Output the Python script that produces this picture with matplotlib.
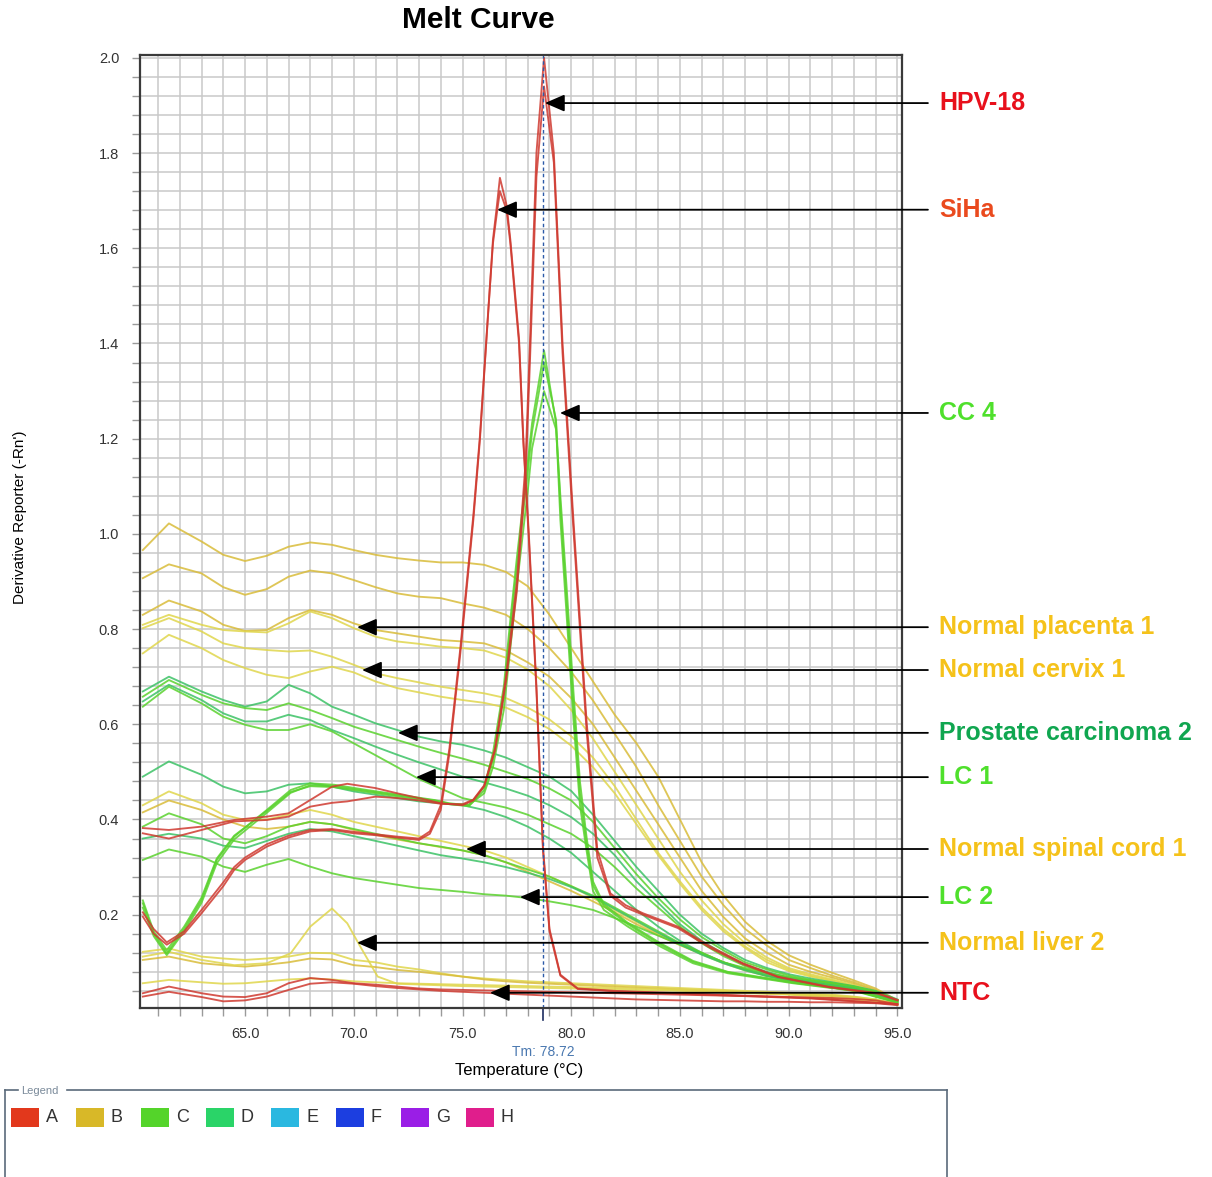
import matplotlib
matplotlib.use("Agg")
import matplotlib.pyplot as plt
from matplotlib.patches import Rectangle
from matplotlib.lines import Line2D
from matplotlib.ticker import MultipleLocator, FormatStrFormatter

plt.rcParams['font.family'] = ['Liberation Sans', 'DejaVu Sans']

# ---------------- data ----------------
# common temperature grid for the broad (non-peaking) traces
T_BASE = [60.3, 61.5, 63, 64, 65, 66, 67, 68, 69, 70, 71, 72, 73, 74, 75,
          76, 77, 78, 79, 80, 81, 82, 83, 84, 85, 86, 87, 88, 89, 90,
          91, 92, 93, 94, 95]

# well group B (yellow) - upper band
B1 = [0.966, 1.022, 0.984, 0.956, 0.943, 0.954, 0.973, 0.982, 0.977, 0.966, 0.956, 0.949, 0.944, 0.940, 0.940,
      0.935, 0.920, 0.890, 0.830, 0.760, 0.690, 0.620, 0.560, 0.490, 0.400, 0.310, 0.240, 0.185, 0.145, 0.115,
      0.095, 0.078, 0.062, 0.045, 0.020]
B2 = [0.907, 0.936, 0.917, 0.888, 0.872, 0.884, 0.910, 0.923, 0.917, 0.903, 0.888, 0.875, 0.868, 0.865, 0.854,
      0.845, 0.830, 0.800, 0.760, 0.710, 0.650, 0.580, 0.510, 0.430, 0.355, 0.280, 0.220, 0.170, 0.135, 0.105,
      0.088, 0.072, 0.058, 0.042, 0.020]
B3 = [0.830, 0.860, 0.837, 0.809, 0.796, 0.798, 0.823, 0.840, 0.830, 0.812, 0.798, 0.791, 0.784, 0.777, 0.774,
      0.770, 0.755, 0.730, 0.700, 0.655, 0.600, 0.530, 0.460, 0.390, 0.320, 0.250, 0.195, 0.150, 0.120, 0.095,
      0.080, 0.068, 0.055, 0.040, 0.020]
B4 = [0.809, 0.830, 0.809, 0.798, 0.795, 0.793, 0.812, 0.837, 0.823, 0.802, 0.784, 0.774, 0.769, 0.763, 0.760,
      0.755, 0.740, 0.715, 0.680, 0.630, 0.570, 0.500, 0.430, 0.360, 0.290, 0.230, 0.180, 0.140, 0.110, 0.088,
      0.075, 0.064, 0.052, 0.038, 0.020]
B5 = [0.802, 0.823, 0.795, 0.770, 0.760, 0.756, 0.753, 0.755, 0.742, 0.725, 0.707, 0.697, 0.688, 0.679, 0.672,
      0.665, 0.655, 0.635, 0.610, 0.575, 0.530, 0.470, 0.400, 0.330, 0.270, 0.215, 0.170, 0.133, 0.105, 0.085,
      0.072, 0.062, 0.050, 0.036, 0.020]
B6 = [0.749, 0.788, 0.760, 0.735, 0.718, 0.704, 0.697, 0.711, 0.721, 0.709, 0.690, 0.676, 0.667, 0.658, 0.651,
      0.645, 0.635, 0.615, 0.590, 0.555, 0.510, 0.455, 0.390, 0.325, 0.265, 0.210, 0.165, 0.130, 0.100, 0.082,
      0.070, 0.060, 0.048, 0.035, 0.020]
# well group B (yellow) - lower band
B7 = [0.430, 0.459, 0.434, 0.410, 0.399, 0.400, 0.410, 0.420, 0.410, 0.395, 0.385, 0.375, 0.365, 0.355, 0.345,
      0.335, 0.320, 0.300, 0.280, 0.260, 0.235, 0.210, 0.185, 0.160, 0.140, 0.120, 0.100, 0.085, 0.072, 0.062,
      0.055, 0.048, 0.040, 0.032, 0.020]
B8 = [0.415, 0.440, 0.420, 0.400, 0.385, 0.380, 0.385, 0.395, 0.390, 0.378, 0.368, 0.358, 0.350, 0.342, 0.335,
      0.325, 0.310, 0.290, 0.270, 0.250, 0.228, 0.205, 0.180, 0.157, 0.136, 0.117, 0.098, 0.083, 0.071, 0.061,
      0.054, 0.047, 0.040, 0.031, 0.019]
B9 = [0.122, 0.129, 0.112, 0.108, 0.105, 0.108, 0.112, 0.120, 0.119, 0.105, 0.100, 0.091, 0.085, 0.077, 0.070,
      0.066, 0.063, 0.060, 0.058, 0.056, 0.054, 0.052, 0.050, 0.048, 0.046, 0.044, 0.042, 0.040, 0.038, 0.036,
      0.034, 0.032, 0.028, 0.022, 0.012]
B10 = [0.105, 0.112, 0.098, 0.094, 0.091, 0.095, 0.100, 0.108, 0.106, 0.094, 0.090, 0.084, 0.080, 0.075, 0.070,
       0.064, 0.060, 0.057, 0.055, 0.053, 0.051, 0.049, 0.047, 0.045, 0.043, 0.041, 0.039, 0.037, 0.035, 0.033,
       0.031, 0.029, 0.026, 0.020, 0.010]
B11 = [0.056, 0.063, 0.058, 0.055, 0.056, 0.060, 0.064, 0.066, 0.064, 0.060, 0.058, 0.056, 0.055, 0.054, 0.053,
       0.052, 0.051, 0.050, 0.049, 0.048, 0.047, 0.046, 0.045, 0.044, 0.043, 0.042, 0.040, 0.038, 0.036, 0.034,
       0.032, 0.030, 0.027, 0.022, 0.012]
# normal liver trace with its small low-temperature peak
T_LIVER = [60.3, 61.5, 63, 64.5, 66, 67.1, 68, 69, 69.7, 70.3, 71.1, 72, 75, 80, 85, 90, 95]
B_LIVER = [0.112, 0.122, 0.105, 0.094, 0.098, 0.119, 0.175, 0.213, 0.182, 0.133, 0.070, 0.055,
           0.050, 0.045, 0.040, 0.032, 0.015]

# well groups C / D (green) - broad traces
G1 = [0.669, 0.700, 0.669, 0.651, 0.637, 0.648, 0.683, 0.665, 0.637, 0.620, 0.602, 0.588, 0.574, 0.564, 0.557,
      0.545, 0.530, 0.510, 0.490, 0.460, 0.410, 0.355, 0.300, 0.250, 0.200, 0.160, 0.130, 0.105, 0.088, 0.075,
      0.066, 0.058, 0.050, 0.040, 0.022]
G2 = [0.658, 0.693, 0.662, 0.644, 0.634, 0.630, 0.644, 0.630, 0.613, 0.595, 0.581, 0.567, 0.553, 0.540, 0.528,
      0.515, 0.500, 0.485, 0.465, 0.440, 0.395, 0.340, 0.285, 0.235, 0.190, 0.153, 0.125, 0.100, 0.085, 0.072,
      0.063, 0.056, 0.048, 0.038, 0.020]
G3 = [0.648, 0.683, 0.651, 0.623, 0.606, 0.606, 0.620, 0.609, 0.588, 0.571, 0.553, 0.536, 0.520, 0.505, 0.490,
      0.478, 0.465, 0.450, 0.430, 0.405, 0.370, 0.325, 0.270, 0.225, 0.180, 0.145, 0.118, 0.095, 0.080, 0.068,
      0.060, 0.053, 0.046, 0.036, 0.020]
G4 = [0.637, 0.679, 0.644, 0.616, 0.599, 0.588, 0.588, 0.600, 0.585, 0.560, 0.535, 0.510, 0.485, 0.465, 0.445,
      0.435, 0.425, 0.410, 0.390, 0.370, 0.340, 0.300, 0.255, 0.215, 0.175, 0.140, 0.113, 0.092, 0.078, 0.066,
      0.058, 0.052, 0.045, 0.035, 0.020]
G5 = [0.490, 0.522, 0.494, 0.469, 0.455, 0.459, 0.473, 0.476, 0.469, 0.459, 0.452, 0.445, 0.438, 0.434, 0.430,
      0.420, 0.405, 0.385, 0.360, 0.330, 0.290, 0.250, 0.210, 0.175, 0.145, 0.120, 0.100, 0.085, 0.075, 0.066,
      0.058, 0.052, 0.045, 0.035, 0.020]
G6 = [0.385, 0.413, 0.390, 0.360, 0.350, 0.365, 0.385, 0.395, 0.390, 0.380, 0.370, 0.360, 0.350, 0.343, 0.335,
      0.325, 0.310, 0.295, 0.280, 0.260, 0.240, 0.215, 0.190, 0.165, 0.140, 0.120, 0.100, 0.085, 0.072, 0.063,
      0.056, 0.050, 0.043, 0.033, 0.018]
G7 = [0.315, 0.337, 0.322, 0.301, 0.290, 0.305, 0.317, 0.301, 0.287, 0.277, 0.270, 0.263, 0.256, 0.252, 0.248,
      0.243, 0.240, 0.235, 0.228, 0.220, 0.210, 0.193, 0.175, 0.156, 0.137, 0.118, 0.100, 0.088, 0.078, 0.069,
      0.062, 0.056, 0.049, 0.038, 0.020]
G8 = [0.360, 0.370, 0.360, 0.345, 0.340, 0.355, 0.370, 0.380, 0.375, 0.365, 0.355, 0.345, 0.335, 0.325, 0.318,
      0.310, 0.300, 0.288, 0.275, 0.258, 0.238, 0.212, 0.187, 0.162, 0.138, 0.116, 0.098, 0.083, 0.071, 0.062,
      0.055, 0.049, 0.042, 0.032, 0.018]

# well group C (green) - specific product peak near Tm
T_CC = [60.3, 60.8, 61.4, 62.2, 63, 63.7, 64.5, 66, 67.1, 68, 69.1, 70.6, 72.1, 73.7, 74.4, 75.3, 76, 76.4,
        76.9, 77.2, 77.5, 78.0, 78.2, 78.75, 79.3, 79.5, 79.8, 80.1, 80.4, 80.7, 81, 81.5, 82.6, 84.1, 85.6,
        87.2, 90.2, 93, 95]
C1 = [0.224, 0.160, 0.119, 0.170, 0.231, 0.315, 0.364, 0.420, 0.462, 0.476, 0.473, 0.462, 0.452, 0.441, 0.434,
      0.430, 0.469, 0.540, 0.680, 0.820, 0.950, 1.150, 1.233, 1.385, 1.233, 1.030, 0.820, 0.610, 0.430, 0.336,
      0.250, 0.210, 0.175, 0.133, 0.098, 0.077, 0.056, 0.040, 0.015]
C2 = [0.230, 0.165, 0.125, 0.175, 0.236, 0.318, 0.366, 0.418, 0.458, 0.470, 0.468, 0.458, 0.448, 0.438, 0.432,
      0.428, 0.462, 0.525, 0.660, 0.800, 0.930, 1.130, 1.215, 1.360, 1.240, 1.060, 0.850, 0.640, 0.455, 0.350,
      0.262, 0.218, 0.180, 0.137, 0.101, 0.079, 0.057, 0.041, 0.016]
C3 = [0.215, 0.155, 0.115, 0.165, 0.225, 0.308, 0.358, 0.414, 0.456, 0.472, 0.470, 0.460, 0.450, 0.440, 0.433,
      0.431, 0.455, 0.510, 0.630, 0.760, 0.890, 1.090, 1.180, 1.300, 1.220, 1.080, 0.880, 0.670, 0.480, 0.365,
      0.270, 0.222, 0.183, 0.140, 0.103, 0.080, 0.058, 0.042, 0.016]

# well group A (red) - HPV-18 positive control pair
T_HPV = [60.3, 61.5, 63, 64.5, 66, 67, 68, 69, 69.7, 71, 72, 73, 74, 75, 75.5, 76, 76.5, 77, 77.5, 77.9,
         78.1, 78.4, 78.75, 79.2, 79.6, 80.1, 80.4, 80.7, 81.2, 81.8, 82.5, 83.3, 84.9, 86.4, 87.9, 89.5,
         91.8, 94.1, 95]
A_HPV1 = [0.382, 0.378, 0.385, 0.399, 0.406, 0.413, 0.441, 0.469, 0.475, 0.466, 0.455, 0.445, 0.434, 0.430,
          0.440, 0.470, 0.550, 0.700, 0.900, 1.150, 1.400, 1.800, 2.000, 1.800, 1.400, 1.030, 0.820, 0.610,
          0.336, 0.245, 0.220, 0.203, 0.175, 0.133, 0.098, 0.070, 0.049, 0.035, 0.021]
A_HPV2 = [0.371, 0.360, 0.378, 0.396, 0.399, 0.406, 0.427, 0.435, 0.438, 0.448, 0.445, 0.440, 0.433, 0.432,
          0.442, 0.472, 0.545, 0.690, 0.880, 1.120, 1.360, 1.750, 1.940, 1.780, 1.380, 1.010, 0.800, 0.590,
          0.320, 0.240, 0.215, 0.200, 0.172, 0.130, 0.096, 0.069, 0.048, 0.034, 0.020]

# well group A (red) - SiHa pair
T_SIHA = [60.3, 60.8, 61.4, 62.2, 63, 64, 64.5, 65, 66, 67, 68, 69, 70, 71, 72, 73, 73.5, 74, 74.4, 74.9,
          75.2, 75.5, 75.8, 76.2, 76.4, 76.57, 76.72, 77.03, 77.2, 77.6, 77.8, 78.05, 78.4, 78.7, 79.0, 79.5,
          80.3, 82, 85, 88, 91, 95]
A_SIHA1 = [0.196, 0.160, 0.137, 0.160, 0.203, 0.260, 0.294, 0.315, 0.343, 0.362, 0.375, 0.378, 0.371, 0.367,
           0.362, 0.357, 0.370, 0.420, 0.539, 0.749, 0.889, 1.030, 1.197, 1.477, 1.618, 1.685, 1.748, 1.690,
           1.618, 1.410, 1.197, 1.000, 0.680, 0.343, 0.170, 0.074, 0.045, 0.040, 0.035, 0.030, 0.025, 0.012]
A_SIHA2 = [0.205, 0.170, 0.142, 0.165, 0.210, 0.268, 0.300, 0.320, 0.348, 0.366, 0.378, 0.380, 0.374, 0.369,
           0.364, 0.360, 0.375, 0.430, 0.550, 0.760, 0.900, 1.040, 1.205, 1.480, 1.610, 1.670, 1.720, 1.680,
           1.610, 1.400, 1.190, 0.990, 0.670, 0.335, 0.165, 0.072, 0.044, 0.039, 0.034, 0.029, 0.024, 0.012]
# well group A (red) - no-template controls
A_NTC1 = [0.035, 0.049, 0.035, 0.028, 0.027, 0.035, 0.056, 0.067, 0.063, 0.056, 0.053, 0.049, 0.045, 0.043, 0.042,
          0.041, 0.040, 0.039, 0.038, 0.037, 0.036, 0.035, 0.034, 0.033, 0.032, 0.031, 0.030, 0.029, 0.028, 0.027,
          0.026, 0.025, 0.023, 0.020, 0.012]
A_NTC2 = [0.028, 0.038, 0.027, 0.018, 0.020, 0.028, 0.042, 0.055, 0.058, 0.055, 0.050, 0.046, 0.043, 0.040, 0.038,
          0.036, 0.034, 0.032, 0.030, 0.028, 0.026, 0.024, 0.022, 0.021, 0.020, 0.019, 0.018, 0.018, 0.017, 0.017,
          0.016, 0.016, 0.015, 0.014, 0.010]

TM = 78.72

# sample annotations: label, colour, arrow tip (temperature, derivative)
LABELS = ["HPV-18", "SiHa", "CC 4", "Normal placenta 1", "Normal cervix 1", "Prostate carcinoma 2",
          "LC 1", "Normal spinal cord 1", "LC 2", "Normal liver 2", "NTC"]
LABEL_COLORS = ["#e8101c", "#ea4a1e", "#4fe02c", "#f5c21a", "#f5c21a", "#10a650",
                "#4fe02c", "#f5c21a", "#4fe02c", "#f5c21a", "#e8101c"]
TIP_T = [78.79, 76.59, 79.48, 70.15, 70.38, 72.03, 72.86, 75.16, 77.64, 70.15, 76.26]
TIP_V = [1.905, 1.681, 1.254, 0.804, 0.714, 0.582, 0.489, 0.338, 0.237, 0.141, 0.036]

LEGEND_KEYS = ["A", "B", "C", "D", "E", "F", "G", "H"]
LEGEND_COLORS = ["#e2381c", "#d8b828", "#54d42a", "#2ad468", "#2ab8e0", "#1c3ee0", "#9a1ee6", "#e01e8c"]

# ---------------- figure ----------------
W, H = 1212, 1177
fig = plt.figure(figsize=(W / 100, H / 100), dpi=100)
fig.patch.set_facecolor("white")


def fx(px):
    return px / W


def fy(py):
    return 1 - py / H


ax = fig.add_axes([fx(140), fy(1008), fx(902) - fx(140), fy(55) - fy(1008)])
ax.set_xlim(60.17, 95.21)
ax.set_ylim(0.004, 2.006)

# grid every 1 degree / 0.04 units
ax.xaxis.set_major_locator(MultipleLocator(5))
ax.xaxis.set_minor_locator(MultipleLocator(1))
ax.yaxis.set_major_locator(MultipleLocator(0.2))
ax.yaxis.set_minor_locator(MultipleLocator(0.04))
ax.xaxis.set_major_formatter(FormatStrFormatter("%.1f"))
ax.yaxis.set_major_formatter(FormatStrFormatter("%.1f"))
ax.grid(which="both", color="#c9c9c9", lw=1.1)
ax.set_axisbelow(True)
ax.tick_params(which="both", direction="out", length=6, width=1, color="#9a9a9a",
               labelsize=10.5, labelcolor="#333333")
ax.tick_params(axis="x", pad=8)
ax.tick_params(axis="y", pad=9)
for s in ax.spines.values():
    s.set_color("#3a3a3a")
    s.set_linewidth(1.6)

YEL_A, YEL_B = "#d9bc3a", "#e0d64c"
GRN_C, GRN_D = "#5ad22e", "#3cc266"
RED_A = "#cf3a30"
LW = 1.35
AL = 0.85

for vals, col in [(B1, YEL_A), (B2, YEL_A), (B3, YEL_A), (B4, YEL_B), (B5, YEL_B), (B6, YEL_B),
                  (B7, YEL_B), (B8, YEL_A), (B9, YEL_B), (B10, YEL_A), (B11, YEL_B)]:
    ax.plot(T_BASE, vals, color=col, lw=LW, alpha=AL)
ax.plot(T_LIVER, B_LIVER, color=YEL_B, lw=LW, alpha=AL)

for vals, col in [(G1, GRN_D), (G2, GRN_C), (G3, GRN_D), (G4, GRN_C),
                  (G5, GRN_D), (G6, GRN_C), (G7, GRN_C), (G8, GRN_D)]:
    ax.plot(T_BASE, vals, color=col, lw=LW, alpha=AL)
for vals in (C1, C2, C3):
    ax.plot(T_CC, vals, color=GRN_C, lw=LW, alpha=AL)

for vals in (A_NTC1, A_NTC2):
    ax.plot(T_BASE, vals, color=RED_A, lw=LW, alpha=AL)
for vals in (A_SIHA1, A_SIHA2):
    ax.plot(T_SIHA, vals, color=RED_A, lw=LW, alpha=AL)
for vals in (A_HPV1, A_HPV2):
    ax.plot(T_HPV, vals, color=RED_A, lw=LW, alpha=AL)

# melting temperature marker
ax.axvline(TM, color="#2c5aa8", lw=1.0, ls=(0, (2.5, 2)))
xtrans = ax.get_xaxis_transform()
ax.plot([TM, TM], [0, -0.013], transform=xtrans, color="#1c2c60", lw=1.2, clip_on=False)
ax.text(TM, -(1052 - 1008) / 953, f"Tm: {TM:.2f}", transform=xtrans, ha="center", va="center",
        fontsize=10, color="#4a78b0")

# annotation arrows and sample names
tail_T = 65 + (928 - 245) / 21.75
text_T = 65 + (939 - 245) / 21.75
for lab, col, tt, tv in zip(LABELS, LABEL_COLORS, TIP_T, TIP_V):
    ax.annotate("", xy=(tt, tv), xytext=(tail_T, tv), annotation_clip=False,
                arrowprops=dict(arrowstyle="-|>,head_length=0.6,head_width=0.26", color="black",
                                lw=1.3, mutation_scale=20, shrinkA=0, shrinkB=0))
    ax.text(text_T, tv, lab, color=col, fontsize=18, fontweight="bold", ha="left", va="center",
            clip_on=False)

# titles
fig.text(fx(478), fy(20), "Melt Curve", ha="center", va="center", fontsize=21.5, fontweight="bold")
fig.text(fx(519), fy(1071), "Temperature (°C)", ha="center", va="center", fontsize=12)
fig.text(fx(20), fy(517), "Derivative Reporter (-Rn')", ha="center", va="center",
         rotation=90, fontsize=11)

# well legend panel
frame_col = "#5a6a7a"
fig.add_artist(Line2D([fx(5), fx(5)], [fy(1090), 0], color=frame_col, lw=1.2))
fig.add_artist(Line2D([fx(5), fx(18)], [fy(1090), fy(1090)], color=frame_col, lw=1.2))
fig.add_artist(Line2D([fx(67), fx(947)], [fy(1090), fy(1090)], color=frame_col, lw=1.2))
fig.add_artist(Line2D([fx(947), fx(947)], [fy(1090), 0], color=frame_col, lw=1.2))
fig.text(fx(21), fy(1091), "Legend", ha="left", va="center", fontsize=8, color="#7a8a9a")
for i, (key, col) in enumerate(zip(LEGEND_KEYS, LEGEND_COLORS)):
    x0 = 11 + 65 * i
    fig.add_artist(Rectangle((fx(x0), fy(1127)), fx(28), 19 / H, facecolor=col, edgecolor="none"))
    fig.text(fx(x0 + 35), fy(1118), key, ha="left", va="center", fontsize=13, color="#333333")

fig.savefig("out.png", dpi=100, facecolor="white")
